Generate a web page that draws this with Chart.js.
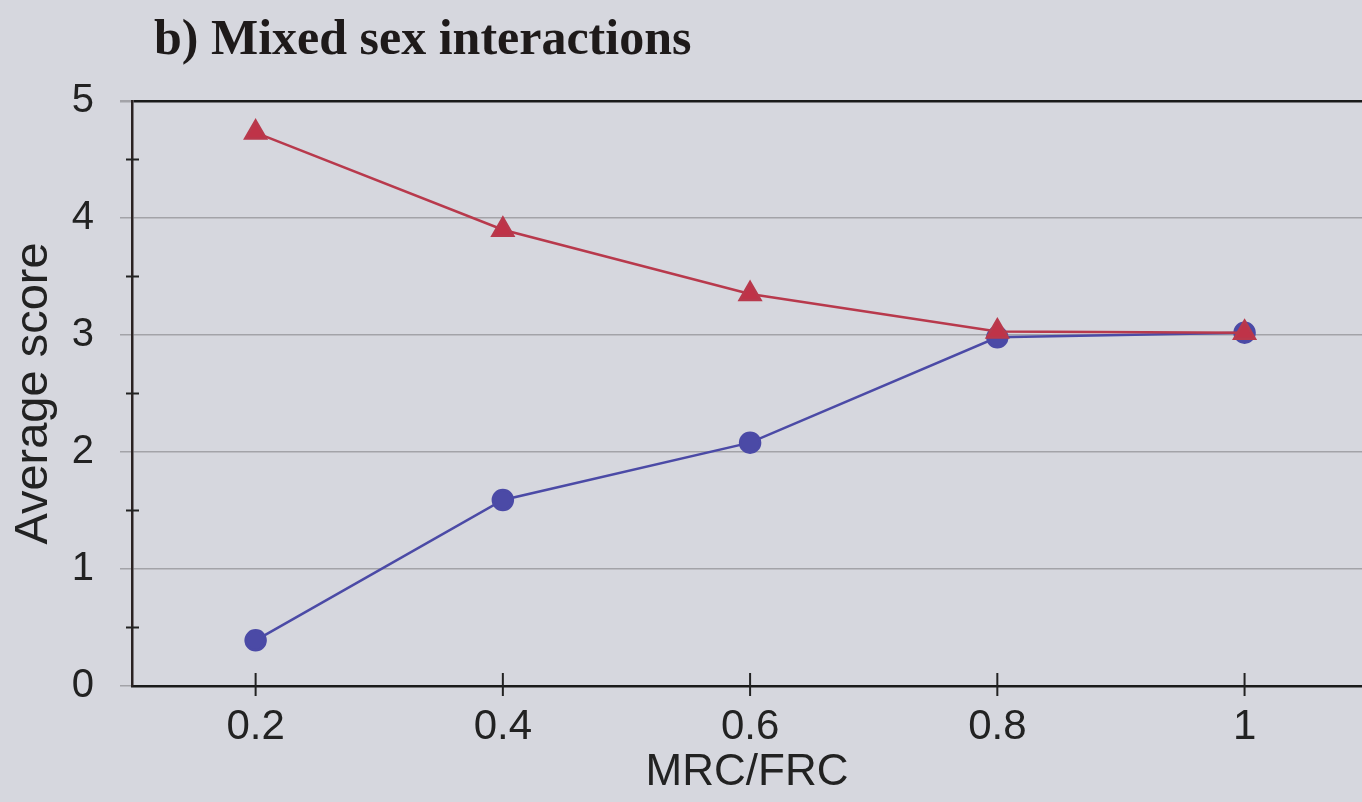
<!DOCTYPE html>
<html>
<head>
<meta charset="utf-8">
<script src="https://cdn.jsdelivr.net/npm/chart.js@4"></script>
<style>
  html, body { margin: 0; padding: 0; background: #d6d7de; }
  #wrap { width: 1362px; height: 802px; position: relative; }
</style>
</head>
<body>
<div id="wrap"><canvas id="chart"></canvas></div>
<script>
// values
const categories = [0.2, 0.4, 0.6, 0.8, 1];
const blueScores = [0.39, 1.59, 2.08, 2.98, 3.02];
const redScores = [4.73, 3.90, 3.35, 3.03, 3.02];
const yTicks = [0, 1, 2, 3, 4, 5];
const yMinorTicks = [0.5, 1.5, 2.5, 3.5, 4.5];

const toPoints = vals => vals.map((v, i) => ({ x: categories[i], y: v }));

// title + crossing tick marks, Excel style
const decorations = {
  id: 'decorations',
  afterDraw(chart) {
    const { ctx, chartArea, scales } = chart;
    ctx.save();
    ctx.strokeStyle = '#222';
    ctx.lineWidth = 2;
    yMinorTicks.forEach(v => {
      const y = scales.y.getPixelForValue(v);
      ctx.beginPath();
      ctx.moveTo(chartArea.left - 6, y);
      ctx.lineTo(chartArea.left + 7, y);
      ctx.stroke();
    });
    categories.forEach(v => {
      const x = scales.x.getPixelForValue(v);
      ctx.beginPath();
      ctx.moveTo(x, chartArea.bottom - 13);
      ctx.lineTo(x, chartArea.bottom + 10);
      ctx.stroke();
    });
    ctx.fillStyle = '#1e1a1a';
    ctx.font = 'bold 50px "Liberation Serif", "Times New Roman", serif';
    ctx.textBaseline = 'alphabetic';
    ctx.fillText('b) Mixed sex interactions', chartArea.left + 22, 54);
    ctx.restore();
  }
};

new Chart(document.getElementById('chart'), {
  type: 'line',
  data: {
    datasets: [
      {
        label: 'Blue',
        data: toPoints(blueScores),
        borderColor: '#4b4aa6',
        backgroundColor: '#4b4aa6',
        borderWidth: 2.5,
        pointStyle: 'circle',
        pointRadius: 10,
        order: 2
      },
      {
        label: 'Red',
        data: toPoints(redScores),
        borderColor: '#b8394c',
        backgroundColor: '#bf3348',
        borderWidth: 2.5,
        pointStyle: 'triangle',
        pointRadius: 12,
        order: 1
      }
    ]
  },
  options: {
    responsive: true,
    maintainAspectRatio: false,
    animation: false,
    layout: { autoPadding: false, padding: { top: 101, right: 0, bottom: 0, left: 0 } },
    plugins: {
      legend: { display: false },
      title: { display: false },
      tooltip: { enabled: false }
    },
    scales: {
      x: {
        type: 'linear',
        min: 0.1,
        max: 1.095,
        afterBuildTicks: axis => { axis.ticks = categories.map(v => ({ value: v })); },
        afterFit: axis => {
          axis.height = 116;
          axis.paddingLeft = 0;
          axis.paddingRight = 0;
        },
        ticks: {
          color: '#222',
          font: { family: 'Liberation Sans, Arial, sans-serif', size: 42 },
          padding: 16,
          maxRotation: 0,
          callback: v => String(v)
        },
        grid: { display: false, drawTicks: false },
        border: { display: true, color: '#1a1a1a', width: 2.5 },
        title: {
          display: true,
          text: 'MRC/FRC',
          color: '#222',
          font: { family: 'Liberation Sans, Arial, sans-serif', size: 44 },
          padding: { top: 0, bottom: 3 }
        }
      },
      y: {
        min: 0,
        max: 5,
        afterBuildTicks: axis => { axis.ticks = yTicks.map(v => ({ value: v })); },
        afterFit: axis => {
          axis.width = 132;
          axis.paddingTop = 0;
          axis.paddingBottom = 0;
        },
        ticks: {
          color: '#222',
          font: { family: 'Liberation Sans, Arial, sans-serif', size: 40 },
          padding: 26
        },
        grid: {
          color: c => (c.tick && c.tick.value === 5) ? '#1a1a1a' : '#a3a3a8',
          lineWidth: c => (c.tick && c.tick.value === 5) ? 2.5 : 1.5,
          tickColor: '#a3a3a8',
          tickLength: 12
        },
        border: { display: true, color: '#2a2222', width: 2.5 },
        title: {
          display: true,
          text: 'Average score',
          color: '#222',
          font: { family: 'Liberation Sans, Arial, sans-serif', size: 47 },
          padding: { top: 6, bottom: 0 }
        }
      }
    }
  },
  plugins: [decorations]
});
</script>
</body>
</html>
